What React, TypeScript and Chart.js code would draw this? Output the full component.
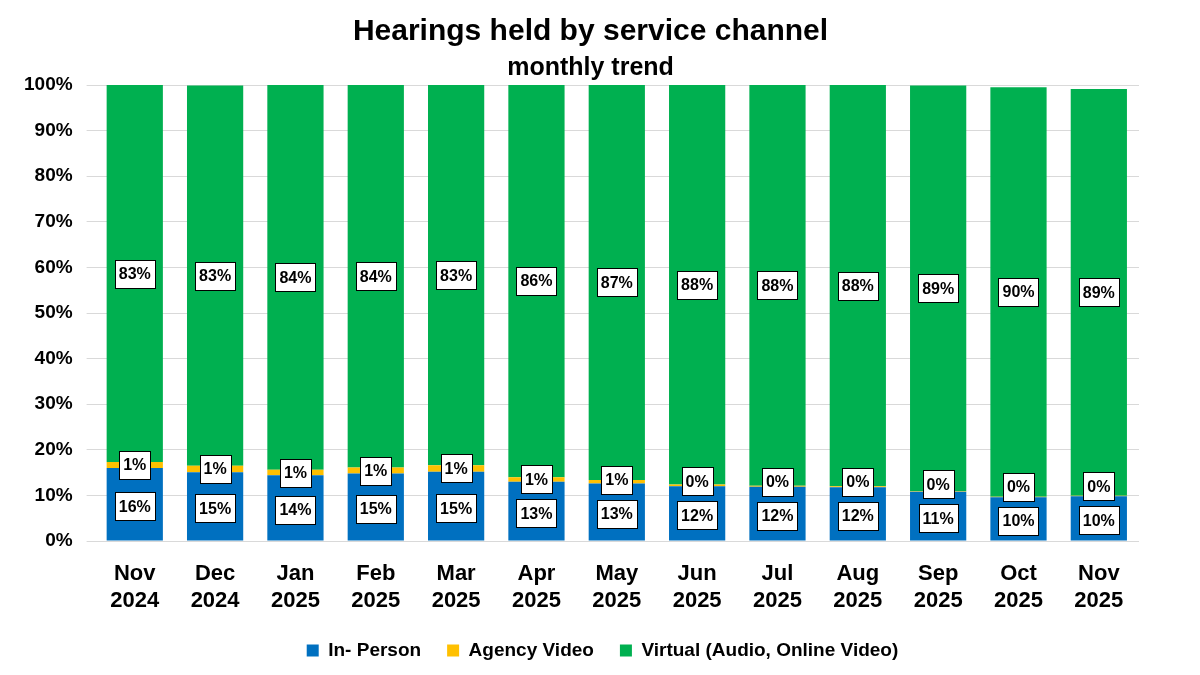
import React, { useEffect, useRef } from "react";
import { Chart, registerables } from "chart.js";

Chart.register(...registerables);

const categories: string[][] = [
  ["Nov", "2024"], ["Dec", "2024"], ["Jan", "2025"], ["Feb", "2025"], ["Mar", "2025"],
  ["Apr", "2025"], ["May", "2025"], ["Jun", "2025"], ["Jul", "2025"], ["Aug", "2025"],
  ["Sep", "2025"], ["Oct", "2025"], ["Nov", "2025"],
];
const inPerson = [16.0, 15.1, 14.4, 14.8, 15.2, 13.0, 12.6, 12.0, 11.9, 11.8, 10.8, 9.6, 9.8];
const agencyVideo = [1.3, 1.4, 1.2, 1.3, 1.4, 1.0, 0.8, 0.4, 0.2, 0.2, 0.1, 0.1, 0.1];
const virtual = [82.7, 83.4, 84.4, 83.9, 83.4, 86.0, 86.6, 87.6, 87.9, 88.0, 89.0, 89.8, 89.2];
const yTicks = [0, 10, 20, 30, 40, 50, 60, 70, 80, 90, 100];

const FONT = "'Liberation Sans', Arial, sans-serif";

const labelPlugin = {
  id: "boxLabels",
  afterDatasetsDraw(chart: any) {
    const ctx = chart.ctx;
    ctx.save();
    ctx.font = `bold 16px ${FONT}`;
    ctx.textAlign = "center";
    ctx.textBaseline = "middle";
    const m0 = chart.getDatasetMeta(0);
    const m1 = chart.getDatasetMeta(1);
    const m2 = chart.getDatasetMeta(2);
    const drawBox = (x: number, y: number, text: string) => {
      const w = Math.round(ctx.measureText(text).width + 8);
      const h = 28;
      const left = Math.round(x - w / 2);
      const top = Math.round(y - h / 2);
      ctx.fillStyle = "#ffffff";
      ctx.fillRect(left, top, w, h);
      ctx.strokeStyle = "#000000";
      ctx.lineWidth = 1;
      ctx.strokeRect(left + 0.5, top + 0.5, w, h);
      ctx.fillStyle = "#000000";
      ctx.fillText(text, x, y + 1);
    };
    for (let i = 0; i < categories.length; i++) {
      const b0 = m0.data[i];
      const b1 = m1.data[i];
      const b2 = m2.data[i];
      const y0 = (b0.y + b0.base) / 2 + 2;
      const y1 = Math.min((b1.y + b1.base) / 2, y0 - 34);
      const y2 = (b2.y + b2.base) / 2;
      drawBox(b0.x, y0, Math.round(inPerson[i]) + "%");
      drawBox(b1.x, y1, Math.round(agencyVideo[i]) + "%");
      drawBox(b2.x, y2, Math.round(virtual[i]) + "%");
    }
    ctx.restore();
  },
};

// shift title/subtitle and legend boxes horizontally to match the reference centring
const shiftPlugin = {
  id: "shiftBoxes",
  afterLayout(chart: any) {
    for (const box of chart.boxes) {
      if (box.axis) continue;
      let d = 0;
      if (box.position === "top") d = 16;
      if (box.position === "bottom") d = 28;
      box.left += d;
      box.right += d;
    }
  },
};

export default function App() {
  const ref = useRef<HTMLCanvasElement>(null);
  useEffect(() => {
    if (!ref.current) return;
    const chart = new Chart(ref.current, {
      type: "bar",
      data: {
        labels: categories,
        datasets: [
          { label: "In- Person", data: inPerson, backgroundColor: "#0070C0" },
          { label: "Agency Video", data: agencyVideo, backgroundColor: "#FFC000" },
          { label: "Virtual (Audio, Online Video)", data: virtual, backgroundColor: "#00B050" },
        ],
      },
      options: {
        responsive: false,
        animation: false,
        maintainAspectRatio: false,
        layout: { padding: { left: 10, right: 61, top: 0, bottom: 5 } },
        datasets: { bar: { barPercentage: 0.7, categoryPercentage: 1 } },
        scales: {
          x: {
            stacked: true,
            grid: { display: false },
            border: { display: false },
            afterFit: (scale: any) => {
              scale.height = 74;
            },
            ticks: {
              color: "#000",
              font: { family: FONT, size: 22, weight: "bold", lineHeight: 1.25 },
              padding: 11,
            },
          },
          y: {
            stacked: true,
            min: 0,
            max: 100,
            afterBuildTicks: (axis: any) => {
              axis.ticks = yTicks.map((v) => ({ value: v }));
            },
            grid: { color: "#d9d9d9" },
            border: { display: false },
            ticks: {
              color: "#000",
              font: { family: FONT, size: 19, weight: "bold" },
              padding: 14,
              callback: (v: any) => v + "%",
            },
          },
        },
        plugins: {
          title: {
            display: true,
            text: "Hearings held by service channel",
            color: "#000",
            font: { family: FONT, size: 30, weight: "bold" },
            padding: { top: 14, bottom: 0 },
          },
          subtitle: {
            display: true,
            text: "monthly trend",
            color: "#000",
            font: { family: FONT, size: 25, weight: "bold" },
            padding: { top: 3, bottom: 2 },
          },
          legend: {
            position: "bottom",
            labels: {
              color: "#000",
              boxWidth: 12,
              boxHeight: 12,
              padding: 26,
              font: { family: FONT, size: 19, weight: "bold" },
            },
          },
          tooltip: { enabled: false },
        },
      },
      plugins: [labelPlugin, shiftPlugin],
    } as any);
    return () => chart.destroy();
  }, []);
  return (
    <div style={{ position: "absolute", left: 0, top: 0, width: 1200, height: 675, background: "#fff" }}>
      <canvas ref={ref} width={1200} height={675} style={{ width: 1200, height: 675 }} />
    </div>
  );
}
